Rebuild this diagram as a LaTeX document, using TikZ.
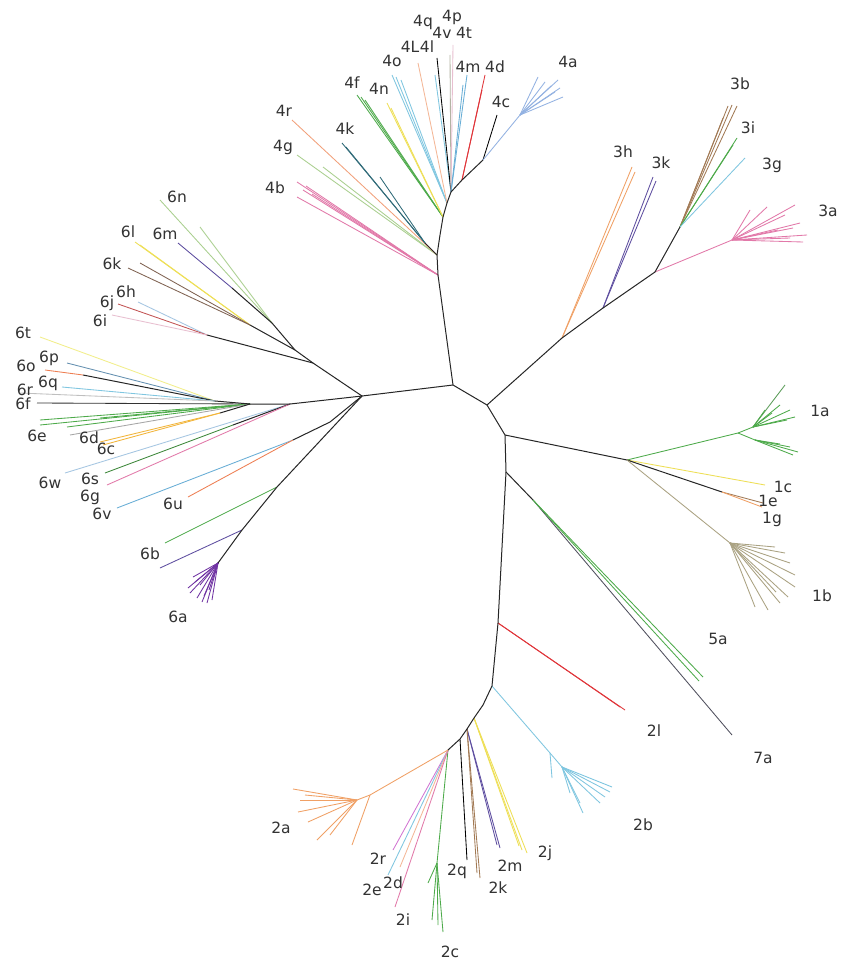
\documentclass[tikz,border=0pt]{standalone}
\usepackage{fontspec}
\setmainfont{DejaVu Sans}
\definecolor{cpink}{HTML}{E279A9}
\definecolor{clgreen}{HTML}{A9CF8E}
\definecolor{csalmon}{HTML}{F2A07A}
\definecolor{cteal}{HTML}{2F6A78}
\definecolor{cgreen}{HTML}{4DAA4A}
\definecolor{cyellow}{HTML}{EEDF55}
\definecolor{clblue}{HTML}{7FC6E0}
\definecolor{cpeach}{HTML}{F4B797}
\definecolor{cgray}{HTML}{B3B3A3}
\definecolor{clpink}{HTML}{E8BFD0}
\definecolor{cblue}{HTML}{68AED6}
\definecolor{cred}{HTML}{E0353A}
\definecolor{ccorn}{HTML}{93B2E2}
\definecolor{cbrown}{HTML}{A27A55}
\definecolor{cpurple}{HTML}{5E4EA0}
\definecolor{corange}{HTML}{F0A065}
\definecolor{colive}{HTML}{AAA282}
\definecolor{cdgray}{HTML}{50505E}
\definecolor{cmag}{HTML}{D275D2}
\definecolor{cviolet}{HTML}{7033A3}
\definecolor{cdbrown}{HTML}{806352}
\definecolor{cdred}{HTML}{C25353}
\definecolor{cpaleblue}{HTML}{A5C6E2}
\definecolor{cpaleyel}{HTML}{F2EE8A}
\definecolor{csteel}{HTML}{6490B0}
\definecolor{cdorange}{HTML}{EE7E52}
\definecolor{cgold}{HTML}{F2B53A}
\tikzset{
  bb/.style={line width=1pt, draw=black!85},
  lf/.style={line width=0.85pt},
  lab/.style={font=\fontsize{15.5}{17}\selectfont, text=black!80, inner sep=0pt},
}
\newcommand{\tipfan}[4]{\foreach \px/\py [count=\i] in {#4}{\coordinate (#3\i) at (\px,\py); \draw[lf,#1] (#2) -- (#3\i);}}
\begin{document}
\begin{tikzpicture}[x=1pt,y=-1pt]
\useasboundingbox (0,0) rectangle (840,963);
\fill[white] (0,0) rectangle (840,963);
% ---------- backbone coordinates
\coordinate (A) at (453,385);
\coordinate (B) at (487,405);
\coordinate (C) at (505,435);
\coordinate (H6) at (362,396);
\coordinate (J4b) at (438,275);
\coordinate (J4g) at (437,255);
\coordinate (J4x) at (440,235);
\coordinate (J4f) at (443,217);
\coordinate (J4o) at (447,203);
\coordinate (J4q) at (451,192);
\coordinate (J4d) at (462,180);
\coordinate (J4c) at (483,160);
\coordinate (J4a) at (520,115);
\coordinate (J3h) at (562,338);
\coordinate (J3k) at (603,308);
\coordinate (H3) at (655,272);
\coordinate (J3b) at (680,227);
\coordinate (J3a) at (732,240);
\coordinate (H1) at (627,460);
\coordinate (J57) at (506,472);
\coordinate (J5) at (533,500);
\coordinate (J2l) at (498,623);
\coordinate (J2b) at (492,686);
\coordinate (J2bb) at (483,705);
\coordinate (J2j) at (474,718);
\coordinate (J2m) at (467,729);
\coordinate (J2q) at (460,739);
\coordinate (J2a) at (448,750);
\coordinate (J6a) at (313,363);
\coordinate (J6b) at (295,350);
\coordinate (J6c) at (272,323);
\coordinate (L1) at (290,404);
\coordinate (L2) at (250,404);
\coordinate (L3) at (215,401);
\coordinate (J6v) at (330,422);
\coordinate (J6v2) at (293,440);
\coordinate (J6bA) at (277,487);
\coordinate (J6bB) at (242,530);
\coordinate (J6aA) at (218,563);
% ---------- group 4
\tipfan{cpink}{J4b}{t4b}{297/182,297/197,303/190,312/194,306/186}
\tipfan{clgreen}{J4g}{t4g}{297/155,323/167}
\tipfan{csalmon}{J4g}{t4r}{292/120}
\coordinate (J4k) at (425,243);
\draw[bb] (J4g) -- (J4k);
\tipfan{cteal}{J4k}{t4k}{342/143,380/177,346/147}
\tipfan{cgreen}{J4f}{t4f}{357/95,361/97,365/100}
\tipfan{cyellow}{J4f}{t4n}{387/103,391/108}
\tipfan{clblue}{J4o}{t4o}{392/75,396/77,401/80}
\tipfan{cpeach}{J4o}{t4L}{418/63}
\tipfan{clblue}{J4q}{t4l}{435/75}
\tipfan{black}{J4q}{t4q}{437/58}
\tipfan{cgray}{J4q}{t4v}{450/55}
\tipfan{clpink}{J4q}{t4p}{453/45}
\tipfan{cblue}{J4q}{t4m}{467/75,463/85}
\tipfan{cred}{J4d}{t4d}{485/75,482/90}
\tipfan{black}{J4c}{t4c}{497/115}
\draw[lf,ccorn] (J4c) -- (J4a);
\tipfan{ccorn}{J4a}{t4a}{538/77,545/82,558/80,560/88,563/97,555/92,551/86}
% ---------- group 3
\tipfan{corange}{J3h}{t3h}{632/167,635/172}
\tipfan{cpurple}{J3k}{t3k}{653/177,656/181}
\tipfan{cbrown}{J3b}{t3b}{732/105,728/106,737/106,723/118}
\tipfan{cgreen}{J3b}{t3i}{737/138,733/145}
\tipfan{clblue}{J3b}{t3g}{745/158}
\draw[lf,cpink] (H3) -- (J3a);
\tipfan{cpink}{J3a}{t3a}{750/210,767/207,795/205,800/223,807/235,803/242,790/238,778/230,785/215,793/228}
% ---------- group 1
\coordinate (J1a) at (738,433);
\coordinate (J1a2) at (753,427);
\coordinate (J1a3) at (755,440);
\draw[lf,cgreen] (H1) -- (J1a);
\draw[lf,cgreen] (J1a) -- (J1a2);
\draw[lf,cgreen] (J1a) -- (J1a3);
\tipfan{cgreen!70!gray}{J1a2}{t1aa}{785/385}
\tipfan{cgreen}{J1a2}{t1ab}{795/417,790/410,780/405,772/413,787/420,765/410}
\tipfan{cgreen}{J1a3}{t1ac}{798/452,790/447,780/444,793/455}
\tipfan{cyellow}{H1}{t1c}{765/485}
\coordinate (J1e) at (722,492);
\draw[bb] (H1) -- (J1e);
\tipfan{cbrown}{J1e}{t1e}{763/503}
\tipfan{corange}{J1e}{t1g}{762/507}
\coordinate (J1b) at (730,543);
\draw[lf,colive] (H1) -- (J1b);
\tipfan{colive}{J1b}{t1b}{775/547,785/553,790/563,795/575,795/587,788/597,780/603,768/610,755/607,776/592}
% ---------- 5a / 7a / 2l
\draw[bb] (J57) -- (J5);
\tipfan{cdgray}{J5}{t7a}{732/735}
\tipfan{cgreen}{J5}{t5a}{703/677,699/681}
\tipfan{cred}{J2l}{t2l}{625/710,620/707}
% ---------- group 2
\coordinate (J2b1) at (550,753);
\coordinate (J2b2) at (562,767);
\draw[lf,clblue] (J2b) -- (J2b1) -- (J2b2);
\tipfan{clblue}{J2b1}{t2bx}{552/778}
\tipfan{clblue}{J2b2}{t2b}{612/787,610/792,600/803,583/813,580/803,570/793,605/797}
\tipfan{cyellow}{J2j}{t2j}{527/853,522/850,519/846}
\tipfan{cpurple}{J2m}{t2m}{500/848,497/845}
\tipfan{cbrown}{J2m}{t2k}{480/878,477/873}
\tipfan{black}{J2q}{t2q}{467/860}
\coordinate (J2c) at (437,863);
\draw[lf,cgreen] (J2a) -- (J2c);
\tipfan{cgreen}{J2c}{t2c}{443/932,432/920,428/883,438/925}
\tipfan{cmag}{J2a}{t2r}{393/850}
\tipfan{clblue}{J2a}{t2e}{388/875}
\tipfan{cpeach}{J2a}{t2d}{400/867}
\tipfan{cpink}{J2a}{t2i}{395/907}
\coordinate (J2a1) at (370,795);
\coordinate (J2a2) at (357,800);
\draw[lf,corange] (J2a) -- (J2a1) -- (J2a2);
\tipfan{corange}{J2a1}{t2ax}{352/845}
\tipfan{corange}{J2a2}{t2a}{293/789,298/812,308/822,317/840,330/835,300/800,305/795}
% ---------- group 6 upper
\coordinate (J6hij) at (207,335);
\draw[bb] (J6a) -- (J6hij);
\tipfan{cpaleblue}{J6hij}{t6h}{138/302}
\tipfan{cdred}{J6hij}{t6j}{118/304}
\tipfan{clpink}{J6hij}{t6i}{112/315}
\coordinate (J6lk) at (250,325);
\draw[bb] (J6b) -- (J6lk);
\tipfan{cyellow}{J6lk}{t6l}{135/242,140/245}
\tipfan{cdbrown}{J6lk}{t6k}{128/268,140/263}
\tipfan{clgreen}{J6c}{t6n}{160/200,200/227}
\coordinate (J6m) at (232,288);
\draw[bb] (J6c) -- (J6m);
\tipfan{cpurple}{J6m}{t6m}{178/243}
% ---------- group 6 lower
\tipfan{cpaleyel}{L3}{t6t}{40/337}
\tipfan{csteel}{L3}{t6p}{67/363}
\coordinate (J6o) at (83,375);
\draw[bb] (L3) -- (J6o);
\tipfan{cdorange}{J6o}{t6o}{45/370}
\tipfan{clblue}{L3}{t6q}{62/387}
\tipfan{black!25}{L3}{t6r}{20/393}
\tipfan{black!80}{L2}{t6f}{37/403}
\tipfan{cgreen}{L2}{t6e}{40/420,40/425,67/427,100/418}
\tipfan{black!35}{L2}{t6d}{70/435}
\coordinate (J6cc) at (220,413);
\draw[bb] (L2) -- (J6cc);
\tipfan{cgold}{J6cc}{t6c}{100/442,103/445}
\tipfan{cpaleblue}{L1}{t6w}{65/473}
\coordinate (J6s) at (233,425);
\draw[bb] (L1) -- (J6s);
\tipfan{cgreen!80!black}{J6s}{t6s}{105/473}
\tipfan{cpink}{L1}{t6g}{107/485}
\tipfan{cblue}{J6v2}{t6v}{117/508}
\tipfan{cdorange}{J6v2}{t6u}{188/497}
\tipfan{cgreen}{J6bA}{t6bg}{165/543}
\tipfan{cpurple}{J6bB}{t6bp}{160/568}
\tipfan{cviolet}{J6aA}{t6a}{193/577,190/593,197/598,207/603,212/600,200/585,195/582,204/596,188/588,209/590,202/602}
% ---------- backbone lines
\draw[bb] (A) -- (B) -- (C);
\draw[bb] (A) -- (H6);
\draw[bb] (A) -- (J4b) -- (J4g) -- (J4x) -- (J4f) -- (J4o) -- (J4q) -- (J4d) -- (J4c);
\draw[bb] (B) -- (J3h) -- (J3k) -- (H3) -- (J3b);
\draw[bb] (C) -- (H1);
\draw[bb] (C) -- (J57) -- (J2l) -- (J2b) -- (J2bb) -- (J2j) -- (J2m) -- (J2q) -- (J2a);
\draw[bb] (H6) -- (J6a) -- (J6b) -- (J6c);
\draw[bb] (H6) -- (L1) -- (L2) -- (L3);
\draw[bb] (H6) -- (J6v) -- (J6v2);
\draw[bb] (H6) -- (J6bA) -- (J6bB) -- (J6aA);
% ---------- labels
\node[lab] (l4q) at (423,22) {4q};
\node[lab] (l4p) at (452,17) {4p};
\node[lab] (l4v) at (442,33) {4v};
\node[lab] (l4t) at (464,33) {4t};
\node[lab] (l4L) at (410,47) {4L};
\node[lab] (l4l) at (427,47) {4l};
\node[lab] (l4o) at (392,61) {4o};
\node[lab] (l4m) at (468,67) {4m};
\node[lab] (l4d) at (495,67) {4d};
\node[lab] (l4a) at (568,62) {4a};
\node[lab] (l4f) at (352,83) {4f};
\node[lab] (l4n) at (379,89) {4n};
\node[lab] (l4c) at (501,102) {4c};
\node[lab] (l4r) at (284,111) {4r};
\node[lab] (l4k) at (345,129) {4k};
\node[lab] (l4g) at (283,147) {4g};
\node[lab] (l4b) at (275,188) {4b};
\node[lab] (l3b) at (740,84) {3b};
\node[lab] (l3i) at (748,128) {3i};
\node[lab] (l3g) at (772,165) {3g};
\node[lab] (l3h) at (623,152) {3h};
\node[lab] (l3k) at (661,163) {3k};
\node[lab] (l3a) at (828,211) {3a};
\node[lab] (l1a) at (820,411) {1a};
\node[lab] (l1c) at (783,487) {1c};
\node[lab] (l1e) at (768,501) {1e};
\node[lab] (l1g) at (772,519) {1g};
\node[lab] (l1b) at (822,596) {1b};
\node[lab] (l5a) at (718,639) {5a};
\node[lab] (l7a) at (763,758) {7a};
\node[lab] (l2l) at (654,731) {2l};
\node[lab] (l2b) at (643,825) {2b};
\node[lab] (l2j) at (545,853) {2j};
\node[lab] (l2m) at (510,866) {2m};
\node[lab] (l2k) at (498,888) {2k};
\node[lab] (l2q) at (457,871) {2q};
\node[lab] (l2r) at (378,859) {2r};
\node[lab] (l2e) at (372,890) {2e};
\node[lab] (l2d) at (393,883) {2d};
\node[lab] (l2i) at (403,920) {2i};
\node[lab] (l2c) at (450,952) {2c};
\node[lab] (l2a) at (281,828) {2a};
\node[lab] (l6n) at (177,197) {6n};
\node[lab] (l6l) at (128,232) {6l};
\node[lab] (l6m) at (165,234) {6m};
\node[lab] (l6k) at (112,264) {6k};
\node[lab] (l6h) at (126,292) {6h};
\node[lab] (l6j) at (107,303) {6j};
\node[lab] (l6i) at (100,321) {6i};
\node[lab] (l6t) at (23,333) {6t};
\node[lab] (l6o) at (26,366) {6o};
\node[lab] (l6p) at (49,358) {6p};
\node[lab] (l6q) at (48,383) {6q};
\node[lab] (l6r) at (25,390) {6r};
\node[lab] (l6f) at (23,404) {6f};
\node[lab] (l6e) at (37,436) {6e};
\node[lab] (l6d) at (89,438) {6d};
\node[lab] (l6c) at (106,449) {6c};
\node[lab] (l6w) at (50,483) {6w};
\node[lab] (l6s) at (90,479) {6s};
\node[lab] (l6g) at (90,497) {6g};
\node[lab] (l6v) at (102,514) {6v};
\node[lab] (l6u) at (173,504) {6u};
\node[lab] (l6b) at (150,554) {6b};
\node[lab] (l6a) at (178,617) {6a};
\end{tikzpicture}
\end{document}
